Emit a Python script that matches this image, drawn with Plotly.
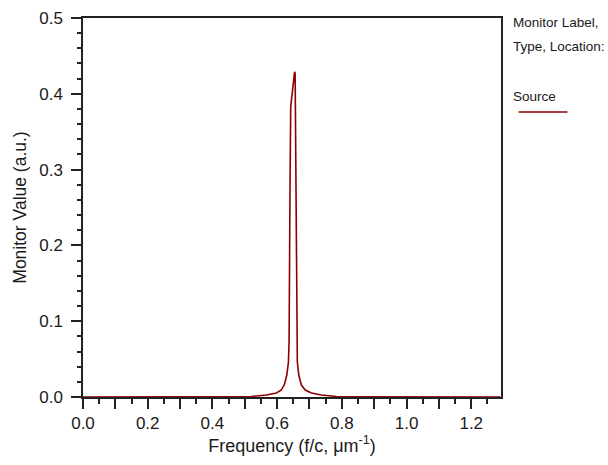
import plotly.graph_objects as go

# Frequency samples (f/c, um^-1) and monitor values (a.u.)
frequency = [0.0, 0.1, 0.2, 0.3, 0.4, 0.45, 0.50, 0.520, 0.567, 0.598, 0.613, 0.622, 0.630, 0.635,
             0.637, 0.638, 0.640, 0.642, 0.646, 0.649, 0.654, 0.6557, 0.657, 0.659, 0.660,
             0.6625, 0.667, 0.675, 0.687, 0.706, 0.737, 0.783, 0.85, 0.9, 1.0, 1.1, 1.2, 1.29]
monitor_value = [0.0, 0.0, 0.0, 0.0, 0.0, 0.0, 0.0002, 0.0007, 0.0026, 0.0053, 0.0092, 0.0158, 0.029, 0.046,
                 0.074, 0.194, 0.286, 0.383, 0.401, 0.412, 0.429, 0.4265, 0.330, 0.194, 0.074,
                 0.046, 0.029, 0.0158, 0.0092, 0.0053, 0.0026, 0.0007, 0.0001, 0.0, 0.0, 0.0, 0.0, 0.0]

x_tick_vals = [0.0, 0.1, 0.2, 0.3, 0.4, 0.5, 0.6, 0.7, 0.8, 0.9, 1.0, 1.1, 1.2]
x_tick_text = ["0.0", "", "0.2", "", "0.4", "", "0.6", "", "0.8", "", "1.0", "", "1.2"]
y_tick_vals = [0.0, 0.1, 0.2, 0.3, 0.4, 0.5]
y_tick_text = ["0.0", "0.1", "0.2", "0.3", "0.4", "0.5"]

line_color = "#8B0000"
font_family = "Liberation Sans, Arial, sans-serif"
axis_color = "#222222"

fig = go.Figure()
fig.add_trace(go.Scatter(x=frequency, y=monitor_value, mode="lines",
                         line=dict(color=line_color, width=1.6), name="Source",
                         showlegend=False))

fig.update_layout(
    width=608, height=465,
    margin=dict(l=83, r=107, t=18, b=68),
    paper_bgcolor="white", plot_bgcolor="white",
    font=dict(family=font_family, color="#1a1a1a"),
    xaxis=dict(range=[0, 1.292], tickvals=x_tick_vals, ticktext=x_tick_text,
               ticks="outside", ticklen=10, tickwidth=1.5, tickcolor=axis_color,
               showline=True, linecolor=axis_color, linewidth=1.5, mirror=True,
               showgrid=False, zeroline=False, automargin=False,
               tickfont=dict(size=17), ticklabelstandoff=0,
               minor=dict(dtick=0.05, ticks="outside", ticklen=5, tickwidth=1.5, tickcolor=axis_color),
               title=dict(text="Frequency (f/c, \u03bcm<sup>-1</sup>)", font=dict(size=18), standoff=6)),
    yaxis=dict(range=[0, 0.5], tickvals=y_tick_vals, ticktext=y_tick_text,
               ticks="outside", ticklen=10, tickwidth=1.5, tickcolor=axis_color,
               showline=True, linecolor=axis_color, linewidth=1.5, mirror=True,
               showgrid=False, zeroline=False, automargin=False,
               tickfont=dict(size=17), ticklabelstandoff=5,
               minor=dict(dtick=0.02, ticks="outside", ticklen=4, tickwidth=1.5, tickcolor=axis_color),
               title=dict(text="Monitor Value (a.u.)", font=dict(size=17.5), standoff=8)),
)

legend_font = dict(size=13.5, color="#1a1a1a")
fig.add_annotation(xref="paper", yref="paper", x=1.0228, y=0.9894, xanchor="left", yanchor="middle",
                   text="Monitor Label,", showarrow=False, font=legend_font)
fig.add_annotation(xref="paper", yref="paper", x=1.0228, y=0.9235, xanchor="left", yanchor="middle",
                   text="Type, Location:", showarrow=False, font=legend_font)
fig.add_annotation(xref="paper", yref="paper", x=1.0228, y=0.7916, xanchor="left", yanchor="middle",
                   text="Source", showarrow=False, font=legend_font)
fig.add_shape(type="line", xref="paper", yref="paper", x0=1.042, x1=1.159, y0=0.752, y1=0.752,
              line=dict(color=line_color, width=1.5))

fig.write_html("out.html", config={"displayModeBar": False},
               post_script="document.body.style.margin='0';document.body.style.overflow='hidden';")
